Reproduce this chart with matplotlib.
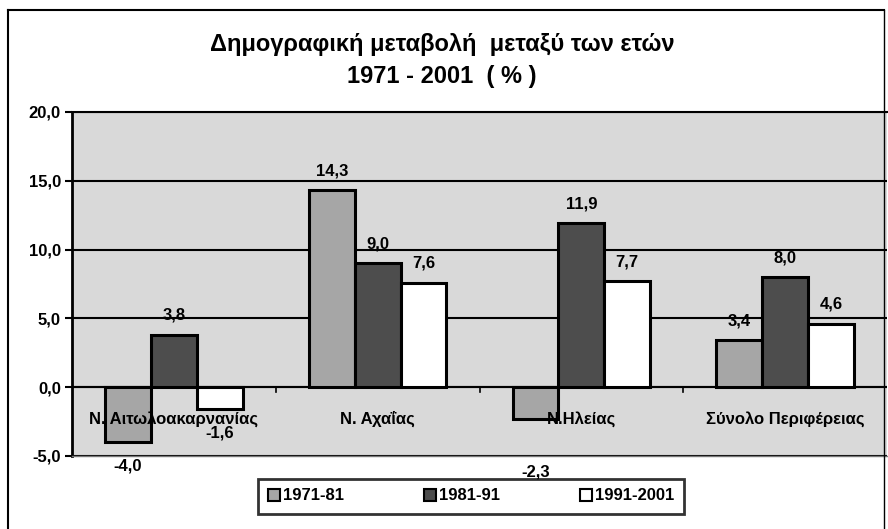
import numpy as np
import matplotlib
matplotlib.use("Agg")
import matplotlib.pyplot as plt
from matplotlib.patches import Patch
from matplotlib.ticker import FuncFormatter

# data
categories = ["Ν. Αιτωλοακαρνανίας", "Ν. Αχαΐας", "Ν.Ηλείας", "Σύνολο Περιφέρειας"]
periods = ["1971-81", "1981-91", "1991-2001"]
v_1971_81 = [-4.0, 14.3, -2.3, 3.4]
v_1981_91 = [3.8, 9.0, 11.9, 8.0]
v_1991_01 = [-1.6, 7.6, 7.7, 4.6]
series = [v_1971_81, v_1981_91, v_1991_01]

colors = ["#a6a6a6", "#4d4d4d", "#ffffff"]
plt.rcParams['font.family'] = ['Liberation Sans', 'DejaVu Sans']
plt.rcParams['font.weight'] = 'bold'

fig = plt.figure(figsize=(8.88, 5.29), dpi=100)
W, H = 888, 529

# outer chart frame (left / top / right)
fig.add_artist(plt.Line2D([8 / W, 8 / W], [0, 1 - 10 / H], color="black", lw=1.5))
fig.add_artist(plt.Line2D([8 / W, 884 / W], [1 - 10 / H, 1 - 10 / H], color="black", lw=1.5))
fig.add_artist(plt.Line2D([884 / W, 884 / W], [0, 1 - 10 / H], color="black", lw=1.0))

ax = fig.add_axes([72 / W, 1 - 456 / H, (887 - 72) / W, (456 - 112) / H])
ax.set_facecolor("#d9d9d9")

x = np.arange(len(categories))
width = 0.225
for j, (vals, c) in enumerate(zip(series, colors)):
    pos = x + (j - 1) * width
    ax.bar(pos, vals, width, color=c, edgecolor="black", linewidth=2.2, zorder=3,
           label=periods[j])
    for i, v in enumerate(vals):
        off = 14 if v >= 0 else -17
        if v < 0 and j == 0 and i == 2:
            off = -38
        ax.annotate(f"{v:.1f}".replace(".", ","), (pos[i], v), xytext=(0, off),
                    textcoords="offset points", ha="center", va="center",
                    fontsize=12, fontweight="bold", zorder=5)

ax.set_xlim(-0.5, 3.5)
ax.set_ylim(-5, 20)
ax.set_yticks(np.arange(-5, 21, 5))
ax.yaxis.set_major_formatter(FuncFormatter(lambda v, p: f"{v:.1f}".replace(".", ",")))
ax.tick_params(axis="y", length=5, width=1.5, labelsize=12, pad=3)
for lab in ax.get_yticklabels():
    lab.set_fontweight("bold")

ax.grid(axis="y", color="black", lw=1.5, zorder=1)
ax.axhline(0, color="black", lw=1.5, zorder=2)

# category boundaries as ticks on the zero line, labels inside the plot
ax.set_xticks([])
for b in [0.5, 1.5, 2.5]:
    ax.plot([b, b], [0, -0.35], color="black", lw=1.2, zorder=2)
for i, c in enumerate(categories):
    ax.text(x[i], -2.65, c, ha="center", va="baseline", fontsize=12,
            fontweight="bold", zorder=4)

ax.spines["left"].set_linewidth(2)
ax.spines["top"].set_linewidth(1.5)
ax.spines["right"].set_visible(False)
ax.spines["bottom"].set_color("#777777")
ax.spines["bottom"].set_linewidth(1)

fig.text(442 / W, 1 - 45 / H, "Δημογραφική μεταβολή  μεταξύ των ετών",
         ha="center", va="center", fontsize=17, fontweight="bold")
fig.text(442 / W, 1 - 76 / H, "1971 - 2001  ( % )",
         ha="center", va="center", fontsize=17, fontweight="bold")

handles = [Patch(facecolor=c, edgecolor="black", lw=1.5) for c in colors]
leg = fig.legend(handles, periods, loc="center", bbox_to_anchor=(471 / W, 1 - 496 / H),
                 ncol=3, frameon=True, fancybox=False, edgecolor="black",
                 fontsize=12, handlelength=0.7, handleheight=0.7, handletextpad=0.2,
                 columnspacing=4.8, borderpad=0.6)
leg.get_frame().set_linewidth(2)

fig.savefig("out.png", dpi=100)
